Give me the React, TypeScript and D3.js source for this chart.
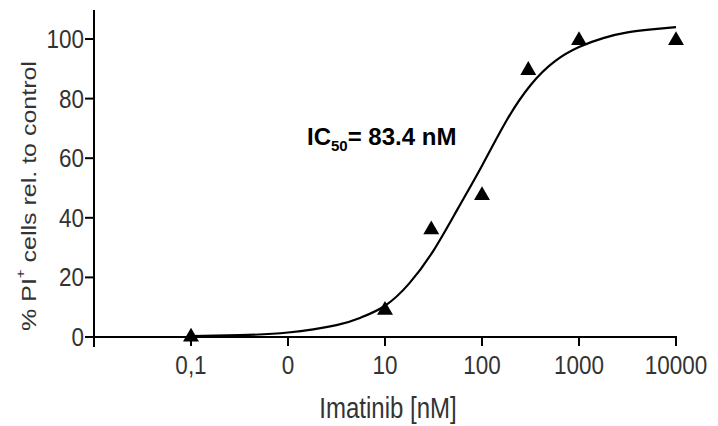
import React from "react";
import * as d3 from "d3";

// measured points (nM, % PI+ cells)
const doses = [0.1, 10, 30, 100, 300, 1000, 10000];
const response = [0, 9, 36, 47.5, 89.5, 99.5, 99.5];

// fitted curve
const curveDoses = [0.1, 0.316, 1, 3.16, 5.62, 10, 17.8, 31.6, 56.2, 100, 178, 316, 562, 1000, 1778, 3162, 5623, 10000];
const curveValues = [0.3, 0.6, 1.5, 4, 6.5, 10.5, 18, 29, 43, 57.5, 72.5, 84.5, 92.5, 97.3, 100.3, 102.2, 103.2, 104];

const xTicks = [0.1, 1, 10, 100, 1000, 10000];
const xTickLabels = ["0,1", "0", "10", "100", "1000", "10000"];
const yTicks = [0, 20, 40, 60, 80, 100];

const W = 718;
const H = 426;

export default function App() {
  const x = d3.scaleLog().domain([0.01, 10000]).range([94, 676]);
  const y = d3.scaleLinear().domain([0, 100]).range([337, 39]);

  const line = d3
    .line<number>()
    .x((d, i) => x(curveDoses[i]))
    .y((d) => y(d))
    .curve(d3.curveNatural);

  const tri = d3.symbol().type(d3.symbolTriangle).size(110)();

  const font = "'Liberation Sans', Arial, sans-serif";
  const grey = "#333";

  return (
    <svg
      width={W}
      height={H}
      style={{ position: "absolute", left: 0, top: 0, background: "#fff" }}
      fontFamily={font}
    >
      {/* axes */}
      <line x1={94} x2={94} y1={10} y2={347} stroke="#000" strokeWidth={2} />
      <line x1={85} x2={x(10000) + 1} y1={y(0)} y2={y(0)} stroke="#000" strokeWidth={2} />

      {yTicks.map((t) => (
        <g key={"y" + t}>
          <line x1={85} x2={94} y1={y(t)} y2={y(t)} stroke="#000" strokeWidth={2} />
          <g transform={`translate(84, ${y(t)}) scale(1, 1.12)`}>
            <text textAnchor="end" dominantBaseline="central" fontSize={22.5} fill={grey}>
              {t}
            </text>
          </g>
        </g>
      ))}

      {xTicks.map((t, i) => (
        <g key={"x" + t}>
          <line x1={x(t)} x2={x(t)} y1={y(0)} y2={y(0) + 9} stroke="#000" strokeWidth={2} />
          <g transform={`translate(${x(t)}, 365) scale(1, 1.12)`}>
            <text textAnchor="middle" dominantBaseline="central" fontSize={22.5} fill={grey}>
              {xTickLabels[i]}
            </text>
          </g>
        </g>
      ))}

      <g transform="translate(388, 408) scale(1, 1.2)">
        <text textAnchor="middle" dominantBaseline="central" fontSize={24} fill={grey}>
          Imatinib [nM]
        </text>
      </g>

      <g transform="translate(29, 196) rotate(-90) scale(1.25, 1)">
        <text textAnchor="middle" dominantBaseline="central" fontSize={20} fill={grey}>
          % PI
          <tspan fontSize={12} dy={-8}>+</tspan>
          <tspan dy={8}> cells rel. to control</tspan>
        </text>
      </g>

      {/* fit */}
      <path d={line(curveValues) || ""} fill="none" stroke="#000" strokeWidth={2.2} />

      {doses.map((d, i) => (
        <path key={"p" + i} d={tri || ""} transform={`translate(${x(d)}, ${y(response[i])})`} fill="#000" />
      ))}

      <text x={307} y={145} fontSize={24} fontWeight="bold" fill="#000">
        IC
        <tspan fontSize={15} dy={6}>50</tspan>
        <tspan dy={-6}>= 83.4 nM</tspan>
      </text>
    </svg>
  );
}
